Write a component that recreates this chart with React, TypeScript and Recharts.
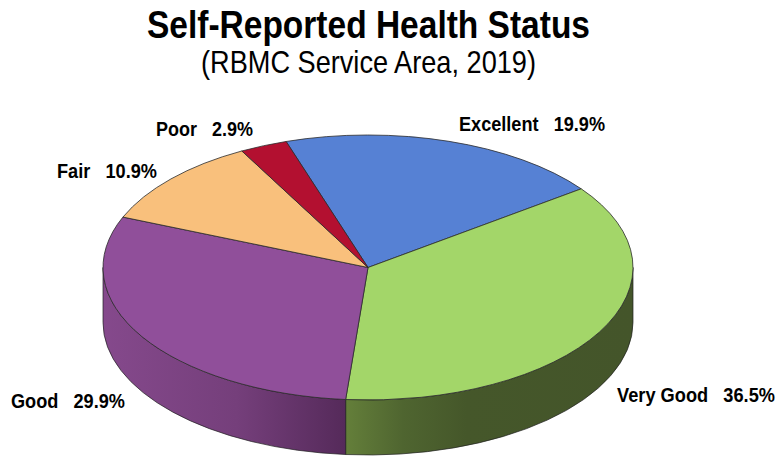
import React from 'react';
import { PieChart, Pie } from 'recharts';

const categories = ['Excellent', 'Very Good', 'Good', 'Fair', 'Poor'];
const shares = [19.9, 36.5, 29.9, 10.9, 2.9];
const topColors = ['#5681d4', '#a3d669', '#904f9a', '#f9c07c', '#b31030'];

const chartData = categories.map((name, i) => ({ name, value: shares[i], fill: topColors[i] }));

// how the flat pie gets tilted
const SQUASH = 132.5 / 265;
const DEPTH = 55;
const START_ANGLE = 108;

// label anchors and drawn widths, picture coordinates
const labelSpots = [
  { x: 459, y: 131, w: 146 },
  { x: 617, y: 401.5, w: 158 },
  { x: 11, y: 408, w: 114 },
  { x: 57, y: 178, w: 100 },
  { x: 156, y: 136, w: 97 },
];
const LABEL_NARROW = 0.86;

const RAD = Math.PI / 180;

const Slice3D = (props: any) => {
  const { cx, cy, outerRadius, startAngle, endAngle, fill, index, name } = props;
  const idx = index ?? categories.indexOf(name);
  const rx = outerRadius;
  const ry = outerRadius * SQUASH;
  const px = (a: number) => cx + rx * Math.cos(a * RAD);
  const py = (a: number) => cy - ry * Math.sin(a * RAD);
  const large = Math.abs(startAngle - endAngle) > 180 ? 1 : 0;
  const top = `M${cx},${cy} L${px(startAngle)},${py(startAngle)} A${rx},${ry} 0 ${large} 1 ${px(endAngle)},${py(endAngle)} Z`;

  // only the front half of the rim shows
  const wallFrom = Math.min(startAngle, 0);
  const wallTo = Math.max(endAngle, -180);
  let wall = null;
  if (wallFrom > wallTo) {
    const d =
      `M${px(wallFrom)},${py(wallFrom)} A${rx},${ry} 0 0 1 ${px(wallTo)},${py(wallTo)} ` +
      `L${px(wallTo)},${py(wallTo) + DEPTH} A${rx},${ry} 0 0 0 ${px(wallFrom)},${py(wallFrom) + DEPTH} Z`;
    wall = <path d={d} fill={`url(#wall-${idx})`} stroke="#1f1f1f" strokeWidth={0.7} />;
  }

  return (
    <g>
      {wall}
      <path d={top} fill={fill} stroke="#2b2b2b" strokeWidth={0.8} strokeLinejoin="round" />
    </g>
  );
};

const renderLabel = (props: any) => {
  const spot = labelSpots[props.index];
  return (
    <text
      transform={`translate(${spot.x} ${spot.y}) scale(${LABEL_NARROW} 1)`}
      textLength={spot.w / LABEL_NARROW}
      lengthAdjust="spacingAndGlyphs"
      fontFamily="'Liberation Sans', Arial, sans-serif"
      fontWeight="bold"
      fontSize={20.5}
      fill="#000"
      style={{ whiteSpace: 'pre' }}
    >
      {`${props.name}   ${props.value}%`}
    </text>
  );
};

export default function App() {
  return (
    <div style={{ position: 'absolute', left: 0, top: 0, width: 779, height: 456, background: '#fff' }}>
      <PieChart width={779} height={456} margin={{ top: 0, right: 0, bottom: 0, left: 0 }}>
        <defs>
          <linearGradient id="wall-1" x1="0" y1="0" x2="1" y2="0">
            <stop offset="0" stopColor="#647f3a" />
            <stop offset="0.2" stopColor="#4f6530" />
            <stop offset="0.42" stopColor="#45572a" />
            <stop offset="1" stopColor="#44552a" />
          </linearGradient>
          <linearGradient id="wall-2" x1="0" y1="0" x2="1" y2="0">
            <stop offset="0" stopColor="#85498c" />
            <stop offset="0.55" stopColor="#753f7b" />
            <stop offset="1" stopColor="#552a5a" />
          </linearGradient>
        </defs>
        <text
          x={147}
          y={38}
          textLength={443}
          lengthAdjust="spacingAndGlyphs"
          fontFamily="'Liberation Sans', Arial, sans-serif"
          fontWeight="bold"
          fontSize={38}
          fill="#000"
        >
          Self-Reported Health Status
        </text>
        <text
          x={201}
          y={73}
          textLength={335}
          lengthAdjust="spacingAndGlyphs"
          fontFamily="'Liberation Sans', Arial, sans-serif"
          fontSize={32}
          fill="#000"
        >
          (RBMC Service Area, 2019)
        </text>
        <Pie
          data={chartData}
          dataKey="value"
          nameKey="name"
          cx={368}
          cy={267.5}
          innerRadius={0}
          outerRadius={265}
          startAngle={START_ANGLE}
          endAngle={START_ANGLE - 360}
          paddingAngle={0}
          stroke="none"
          shape={Slice3D}
          label={renderLabel}
          labelLine={false}
          isAnimationActive={false}
        />
      </PieChart>
    </div>
  );
}
